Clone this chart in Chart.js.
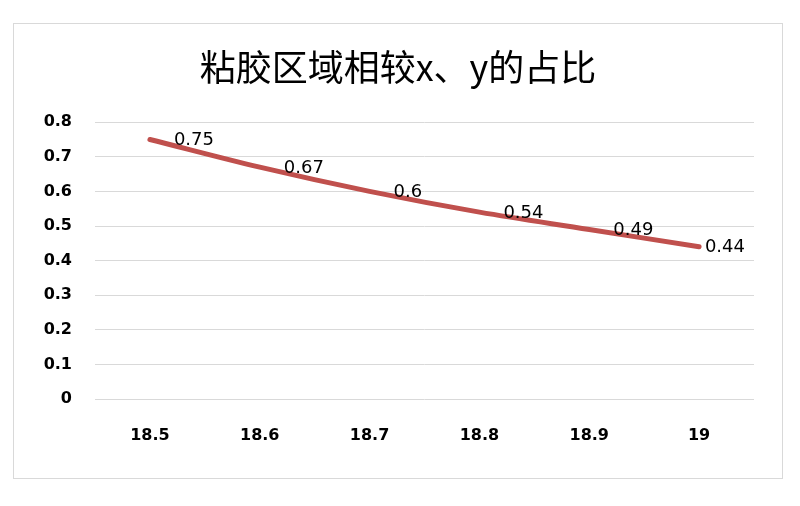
<!DOCTYPE html>
<html>
<head>
<meta charset="utf-8">
<script src="https://cdn.jsdelivr.net/npm/chart.js@4/dist/chart.umd.min.js"></script>
<style>
  body { margin: 0; background: #fff; }
  #frame {
    position: absolute; left: 13px; top: 23px;
    width: 768px; height: 454px;
    border: 1px solid #d9d9d9;
  }
  canvas { display: block; }
</style>
</head>
<body>
<div id="frame"><canvas id="lineChart" width="768" height="454"></canvas></div>
<script>
// chart data
const categories = ['18.5', '18.6', '18.7', '18.8', '18.9', '19'];
const ratioValues = [0.75, 0.67, 0.6, 0.54, 0.49, 0.44];
const yTickLabels = ['0', '0.1', '0.2', '0.3', '0.4', '0.5', '0.6', '0.7', '0.8'];
const chartTitle = '粘胶区域相较x、y的占比';

// value labels to the right of each point, kept inside the plot
const valueLabels = {
    id: 'valueLabels',
    afterDatasetsDraw(chart) {
        const ctx = chart.ctx;
        const area = chart.chartArea;
        const meta = chart.getDatasetMeta(0);
        ctx.save();
        ctx.font = '18px "DejaVu Sans"';
        ctx.fillStyle = '#000';
        ctx.textBaseline = 'middle';
        ctx.textAlign = 'left';
        meta.data.forEach((pt, i) => {
            const text = String(ratioValues[i]);
            const w = ctx.measureText(text).width;
            const x = Math.min(pt.x + 24, area.right - 9 - w);
            ctx.fillText(text, x, pt.y + 1);
        });
        ctx.restore();
    }
};

new Chart(document.getElementById('lineChart').getContext('2d'), {
    type: 'line',
    data: {
        labels: categories,
        datasets: [{
            data: ratioValues,
            borderColor: '#c0504d',
            borderWidth: 5,
            borderCapStyle: 'round',
            tension: 0.35,
            pointRadius: 0,
            fill: false
        }]
    },
    options: {
        responsive: false,
        animation: false,
        // equal side padding keeps the title centred in the frame
        layout: { padding: { top: 0, left: 28, right: 28, bottom: 0 } },
        plugins: {
            legend: { display: false },
            tooltip: { enabled: false },
            title: {
                display: true,
                text: chartTitle,
                color: '#000',
                font: { family: '"Noto Sans CJK SC"', size: 36, weight: 'normal', lineHeight: 1.2 },
                padding: { top: 22, bottom: 33 }
            }
        },
        scales: {
            x: {
                offset: true,
                grid: { display: false, drawTicks: false },
                border: { display: false },
                ticks: { color: '#000', padding: 27, font: { family: '"DejaVu Sans"', size: 16, weight: 'bold' } },
                afterFit(scale) { scale.height = 79; }
            },
            y: {
                min: 0,
                max: 0.8,
                grid: { color: '#d9d9d9', lineWidth: 1, drawTicks: false },
                border: { display: false },
                ticks: {
                    stepSize: 0.1,
                    color: '#000',
                    padding: 23,
                    font: { family: '"DejaVu Sans"', size: 16, weight: 'bold' },
                    callback: (v, i) => yTickLabels[i]
                },
                afterFit(scale) { scale.width = 53; }
            }
        }
    },
    plugins: [valueLabels]
});
</script>
</body>
</html>
